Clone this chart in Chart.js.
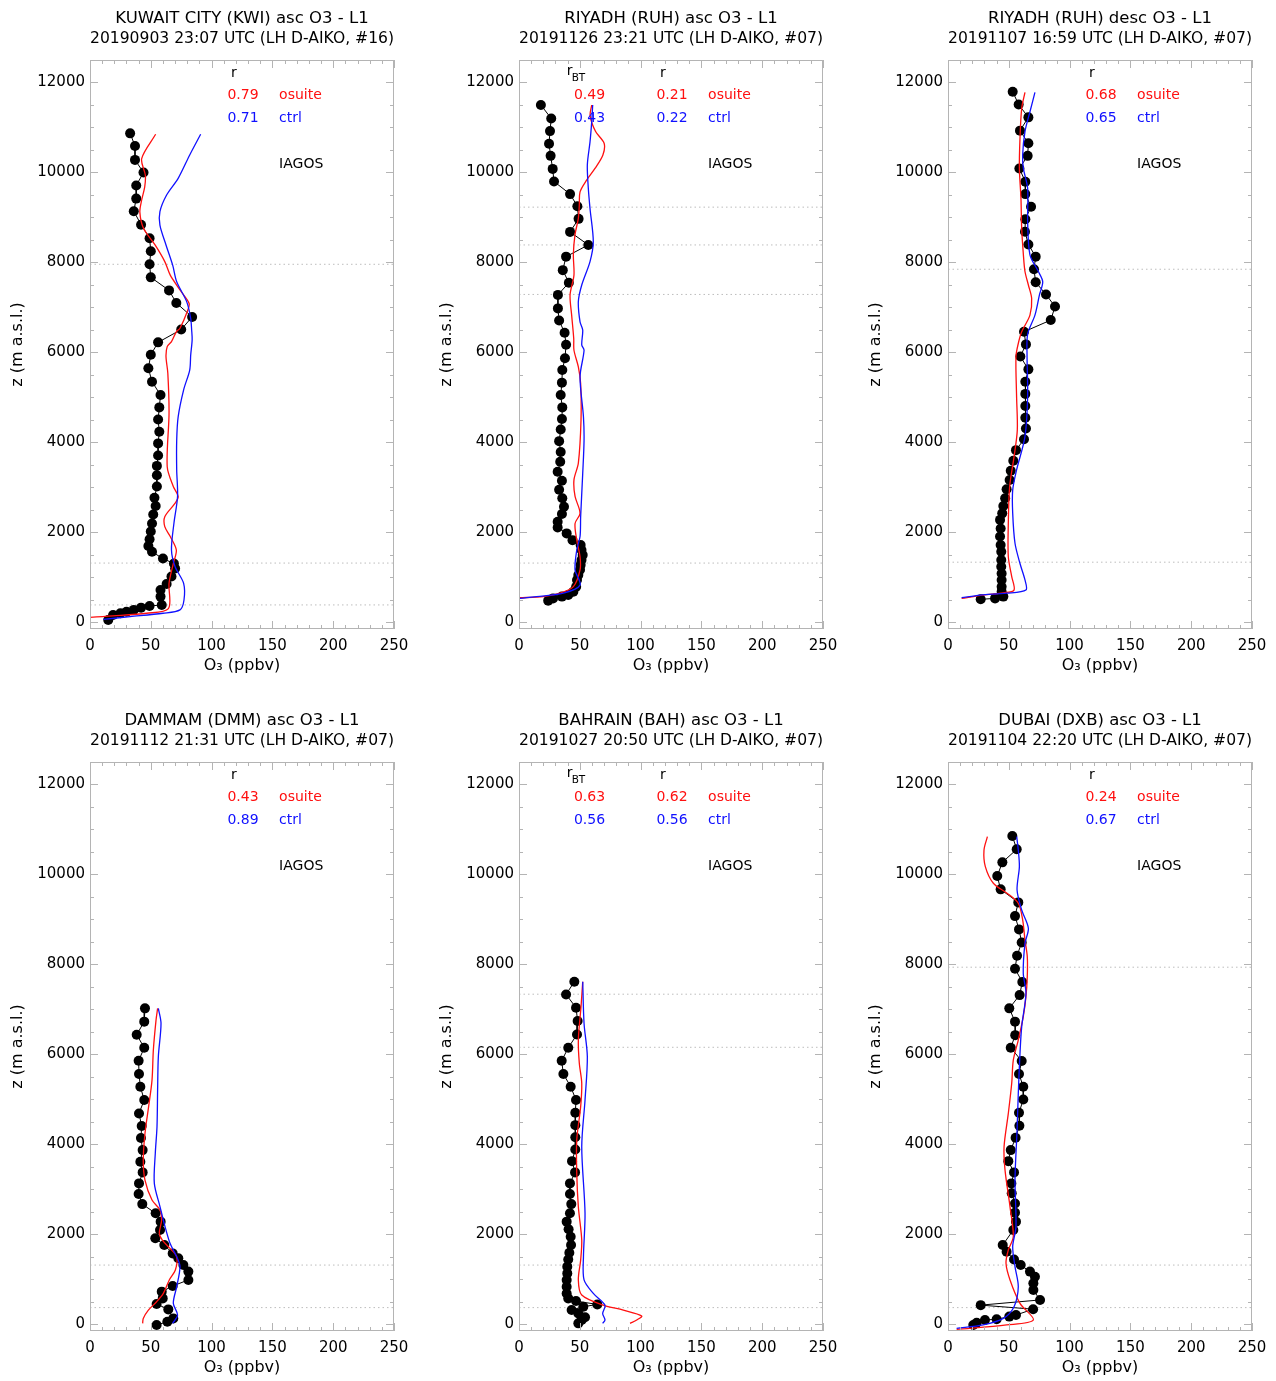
<!DOCTYPE html>
<html>
<head>
<meta charset="utf-8">
<script src="https://cdn.jsdelivr.net/npm/chart.js@4.4.1/dist/chart.umd.min.js"></script>
<style>
  html, body { margin: 0; padding: 0; background: #fff; overflow: hidden; }
  .panel { position: absolute; width: 418px; height: 680px; }
</style>
</head>
<body>
<div class="panel" style="left:0;top:0"><canvas id="p0" width="418" height="680"></canvas></div>
<div class="panel" style="left:429px;top:0"><canvas id="p1" width="418" height="680"></canvas></div>
<div class="panel" style="left:858px;top:0"><canvas id="p2" width="418" height="680"></canvas></div>
<div class="panel" style="left:0;top:702px"><canvas id="p3" width="418" height="680"></canvas></div>
<div class="panel" style="left:429px;top:702px"><canvas id="p4" width="418" height="680"></canvas></div>
<div class="panel" style="left:858px;top:702px"><canvas id="p5" width="418" height="680"></canvas></div>
<script>
// ---------- data: [O3 ppbv, altitude m] ----------
const xTicks = [0, 50, 100, 150, 200, 250];
const zTicks = [0, 2000, 4000, 6000, 8000, 10000, 12000];

const titles = [
  ['KUWAIT CITY (KWI) asc O3 - L1', '20190903 23:07 UTC (LH D-AIKO, #16)'],
  ['RIYADH (RUH) asc O3 - L1', '20191126 23:21 UTC (LH D-AIKO, #07)'],
  ['RIYADH (RUH) desc O3 - L1', '20191107 16:59 UTC (LH D-AIKO, #07)'],
  ['DAMMAM (DMM) asc O3 - L1', '20191112 21:31 UTC (LH D-AIKO, #07)'],
  ['BAHRAIN (BAH) asc O3 - L1', '20191027 20:50 UTC (LH D-AIKO, #07)'],
  ['DUBAI (DXB) asc O3 - L1', '20191104 22:20 UTC (LH D-AIKO, #07)'],
];

const rOsuite   = ['0.79', '0.21', '0.68', '0.43', '0.62', '0.24'];
const rCtrl     = ['0.71', '0.22', '0.65', '0.89', '0.56', '0.67'];
const rbtOsuite = [null, '0.49', null, null, '0.63', null];
const rbtCtrl   = [null, '0.43', null, null, '0.56', null];

// KWI asc
const kwiObs = [[33,10860],[37,10580],[37,10270],[44,9990],[38,9700],[38,9410],[36,9130],[42,8830],[49,8530],[50,8240],[49,7950],[50,7660],[65,7370],[71,7090],[84,6780],[75,6500],[56,6215],[50,5940],[48,5640],[51,5340],[58,5045],[57,4770],[56,4500],[57,4230],[56,3970],[56,3700],[55,3470],[55,3260],[55,3010],[53,2760],[54,2580],[52,2390],[51,2190],[50,2010],[49,1840],[48,1690],[51,1560],[60,1410],[69,1300],[70,1190],[67,1010],[63,845],[58,710],[58,565],[59,380],[49,355],[42,320],[36,270],[30,230],[25,195],[19,155],[15,45]];
const kwiOsuite = [[54,10840],[42.5,10300],[45.5,9930],[45,9670],[42.5,9380],[41,9110],[44,8750],[53.5,8380],[61.5,8010],[66,7710],[74,7380],[81.5,7080],[80,6900],[74,6530],[71,6450],[67,6230],[63.5,6120],[62.5,5900],[64,5530],[65,4640],[63.5,3450],[68.5,3010],[72.5,2790],[70,2640],[61.5,2340],[61.5,2120],[66,1900],[71,1600],[68.5,1300],[65,860],[64.5,300],[46.5,195],[19,135],[0,105],[-5,103]];
const kwiCtrl = [[91,10840],[82,10380],[72.5,9860],[63,9490],[57.5,9120],[57.5,8820],[62.5,8380],[68,7930],[71.3,7560],[79.5,7120],[82.8,6750],[83.6,6490],[84,6270],[82.8,5930],[82,5600],[77,5160],[72.5,4560],[71.3,4040],[71.3,3380],[72,2790],[69,2190],[67,1600],[70,1230],[77,860],[77.3,490],[74,270],[60,195],[33,120],[11,60]];
const kwiLevels = [7950, 1310, 380];

// RUH asc
const ruhAscObs = [[18,11490],[26.5,11190],[25.5,10910],[24.7,10630],[26,10360],[27.7,10070],[28.8,9790],[42,9510],[48,9240],[49,8960],[42,8670],[57,8380],[38.7,8120],[36,7820],[41,7540],[32,7270],[32,6970],[33,6700],[37.5,6430],[38.7,6160],[37.8,5860],[35.6,5600],[35.3,5320],[34.3,5045],[35.6,4770],[35.3,4510],[34.3,4280],[33,4020],[34.3,3780],[33.9,3560],[31.8,3340],[35.3,3140],[33,2940],[35.6,2750],[37,2560],[35.3,2400],[31.8,2230],[31.8,2100],[39.2,1970],[44,1820],[50.7,1710],[51.4,1600],[52.4,1490],[51.4,1380],[50.7,1270],[50.2,1160],[48.8,1045],[47.7,935],[47,785],[44.7,675],[40.5,600],[35.3,565],[28,525],[24,475]];
const ruhAscOsuite = [[59.8,11490],[58.5,11250],[63,10900],[70,10640],[69,10380],[62.5,10080],[55.6,9820],[50.2,9560],[49.6,9270],[48.8,8970],[46,8600],[44.7,8160],[45.2,7710],[42,7270],[43.3,6820],[45,6300],[45.2,6040],[48.8,5670],[50.7,5300],[51,4490],[48.8,3530],[45.2,3160],[46.1,2790],[50.2,2420],[46.1,2190],[47.5,1820],[50.2,1450],[50.2,1160],[44.7,785],[33.7,640],[20,565],[0.8,540],[-5,535]];
const ruhAscCtrl = [[60.6,11490],[59.8,11120],[58.4,10670],[56.2,10160],[57,9640],[58.4,9190],[61.1,8450],[58.4,8010],[51.6,7490],[48.8,7120],[50.2,6670],[52.4,6490],[51.6,6160],[53.5,6040],[50.2,5450],[53,4560],[53.5,4040],[52.4,3300],[50.7,2340],[50.2,1900],[47.5,1600],[46.1,1160],[50.2,820],[36.5,640],[14.5,565],[0.8,525],[-5,520]];
const ruhAscLevels = [9220, 8380, 7280, 1310];

// RUH desc
const ruhDescObs = [[53.2,11785],[58.1,11500],[66.1,11215],[59.2,10920],[66.1,10640],[65.5,10360],[58.7,10080],[63.6,9785],[63.6,9510],[68.3,9230],[63.6,8950],[63.3,8675],[66.1,8390],[72.1,8120],[70.7,7840],[72.1,7550],[80.6,7280],[88,7010],[84.5,6710],[62.5,6450],[64.1,6170],[59.5,5900],[66.1,5615],[63.6,5340],[63.6,5070],[63.6,4800],[63.6,4540],[64.1,4300],[62.5,4060],[55.9,3820],[53.7,3585],[51.6,3360],[50.7,3155],[48.2,2950],[47,2750],[45.5,2580],[44.6,2415],[42.8,2270],[43.3,2080],[42.8,1900],[43.3,1710],[43.8,1560],[43.8,1380],[43.8,1230],[44.1,1080],[44.1,935],[44.1,785],[44.1,675],[45.5,565],[38.7,525],[26.9,505]];
const ruhDescOsuite = [[63.3,11770],[60.6,11415],[59.2,10750],[58.7,10080],[60,9415],[60.6,8750],[62,8160],[63.3,7790],[66.1,7490],[68.8,7190],[67.4,6820],[60.6,6450],[57.8,6190],[55.9,5900],[56.4,5010],[57,4270],[54.3,3670],[50.7,3010],[49.6,2190],[49.6,1450],[52.4,1010],[54.3,710],[45.5,650],[29,600],[11.2,525]];
const ruhDescCtrl = [[71.5,11770],[67.4,11340],[63.3,10900],[61.4,10380],[62,10080],[65.5,9640],[65.5,8900],[67.4,8160],[74.3,7790],[77.9,7560],[75.2,7270],[71.5,6820],[65.5,6400],[65,5930],[65.5,5010],[63.3,4120],[56.4,3380],[53.2,2930],[53.2,2420],[55.1,1750],[59.2,1300],[63.3,935],[64.1,710],[48.2,640],[26.3,600],[11.2,540]];
const ruhDescLevels = [7840, 1330];

// DMM asc
const dmmObs = [[45.2,7015],[44.6,6720],[38.4,6430],[44.6,6140],[40,5850],[40.3,5555],[41.4,5275],[44.6,4980],[40.3,4680],[42.5,4400],[41.9,4135],[43.3,3865],[41.4,3605],[43.3,3370],[40.3,3125],[40,2890],[43,2665],[54,2460],[58.1,2275],[57.6,2090],[53.7,1905],[61.1,1755],[68,1570],[72.6,1460],[76.8,1310],[80.9,1165],[80.9,980],[68,845],[59,720],[59.8,570],[54.8,445],[64.4,325],[68.5,125],[63.6,50],[54.8,-20]];
const dmmOsuite = [[55.6,7015],[54.3,6755],[52.1,6090],[51,5420],[48.2,4830],[45.2,4235],[43.8,3645],[45.2,3200],[51,2755],[57.6,2535],[58.9,2310],[57,2015],[59.5,1865],[65.8,1680],[71.3,1495],[70.2,1200],[65.2,980],[60.3,680],[54.8,495],[48,310],[43.8,125],[43.3,15]];
const dmmCtrl = [[56.2,7015],[58.4,6680],[56.2,5940],[55.6,5200],[55.1,4385],[53.7,3795],[52.9,3125],[57.6,2605],[61.7,2165],[65.8,1795],[71.3,1495],[74,1275],[71.3,830],[68.5,460],[72,200],[68,15]];
const dmmLevels = [1310, 365];

// BAH asc
const bahObs = [[45.5,7605],[38.7,7325],[46.9,7030],[48.2,6735],[47.7,6435],[40.5,6140],[35.1,5850],[36.5,5555],[42.5,5275],[46.9,4980],[46.3,4695],[46.3,4420],[46.3,4150],[46.3,3880],[43.6,3620],[46.1,3370],[41.9,3125],[41.9,2890],[43,2665],[41.9,2460],[39.2,2275],[40.8,2105],[42.5,1940],[42.8,1755],[41.4,1585],[40.5,1435],[39.7,1275],[39.7,1125],[39.2,980],[39.2,830],[39.2,680],[40.5,570],[46.9,510],[64.4,435],[52.9,385],[43.3,310],[48.8,235],[54.3,150],[51.6,90],[48.8,15]];
const bahOsuite = [[52.4,7605],[51,7050],[48.8,6310],[49.6,5795],[51.6,5350],[50.7,4830],[47.5,4090],[47.5,3350],[48.8,2605],[51.6,1865],[50.7,1420],[48.8,980],[51.6,645],[69.3,420],[85.8,310],[100.9,180],[96.8,90],[91.3,15]];
const bahCtrl = [[52.4,7605],[53.5,6680],[56.2,5940],[54.3,4980],[51.6,3940],[54.3,2460],[53,1495],[53.5,980],[61.1,680],[70.7,420],[68.8,235],[70.7,90],[68.8,15]];
const bahLevels = [7330, 6150, 1310, 365];

// DXB asc
const dxbObs = [[52.9,10845],[56.5,10550],[44.7,10260],[40.5,9955],[43.3,9660],[57.8,9370],[55.1,9065],[58.4,8770],[60.6,8480],[56.8,8185],[55.1,7895],[61.1,7600],[58.9,7310],[50.4,7015],[55.1,6720],[55.3,6420],[51.6,6140],[60.6,5845],[58.4,5555],[61.9,5275],[61.9,4990],[58.4,4695],[58.7,4405],[55.6,4140],[51.6,3865],[49.6,3620],[54.3,3370],[52.1,3125],[52.4,2905],[55.1,2680],[55.1,2475],[55.9,2275],[53.7,2090],[45,1755],[48.2,1605],[54.3,1435],[59.8,1310],[67.4,1165],[71.5,1050],[70.2,905],[70.2,755],[75.7,535],[26.9,420],[70,330],[55.9,200],[50.4,165],[40,105],[30.4,90],[23.6,30],[20.8,-20]];
const dxbOsuite = [[32.4,10830],[29.6,10535],[30.7,10165],[37.3,9795],[48.8,9570],[57.8,9350],[61.4,8980],[63.3,8535],[65.2,8165],[65.2,7720],[64.1,7275],[61.9,6830],[57.8,6310],[53.7,5865],[52.4,5350],[49.6,4680],[46.1,3940],[46.9,3420],[51,2605],[53.7,1940],[49.6,1645],[47.7,1350],[51,980],[59.2,460],[70.2,90],[48.2,-20],[7.1,-120]];
const dxbCtrl = [[56.5,10830],[57.8,10535],[58.7,10165],[56.8,9645],[60.6,9200],[66.1,8795],[63.3,8460],[61.9,7795],[64.1,7350],[60.6,6605],[59.2,6015],[57.8,5125],[56.8,4310],[55.1,3200],[55.9,2165],[53.2,1720],[55.1,1275],[57.8,830],[54.3,385],[45.5,125],[29,-20],[7.1,-95]];
const dxbLevels = [7930, 1310, 365];

const obsSets    = [kwiObs, ruhAscObs, ruhDescObs, dmmObs, bahObs, dxbObs];
const osuiteSets = [kwiOsuite, ruhAscOsuite, ruhDescOsuite, dmmOsuite, bahOsuite, dxbOsuite];
const ctrlSets   = [kwiCtrl, ruhAscCtrl, ruhDescCtrl, dmmCtrl, bahCtrl, dxbCtrl];
const levelSets  = [kwiLevels, ruhAscLevels, ruhDescLevels, dmmLevels, bahLevels, dxbLevels];

// ---------- styling ----------
const FONT = '"DejaVu Sans", "Liberation Sans", sans-serif';
const RED = '#ff1010';
const BLUE = '#1010ff';
const FRAME = '#b4b4b4';

const toXY = (arr) => arr.map((p) => ({ x: p[0], y: p[1] }));

// frame + small inward ticks on all four sides
const framePlugin = {
  id: 'frame',
  afterDatasetsDraw(chart) {
    const { ctx, chartArea: a, scales: { x, y } } = chart;
    ctx.save();
    ctx.strokeStyle = FRAME;
    ctx.lineWidth = 1;
    ctx.strokeRect(a.left + 0.5, a.top + 0.5, a.right - a.left - 1, a.bottom - a.top - 1);
    ctx.beginPath();
    for (let v = 0; v <= 250; v += 10) {
      const px = Math.round(x.getPixelForValue(v)) + 0.5;
      const len = v % 50 === 0 ? 8 : 4;
      ctx.moveTo(px, a.bottom); ctx.lineTo(px, a.bottom - len);
      ctx.moveTo(px, a.top); ctx.lineTo(px, a.top + len);
    }
    for (let v = 0; v <= 12000; v += 500) {
      const py = Math.round(y.getPixelForValue(v)) + 0.5;
      const len = v % 2000 === 0 ? 8 : 4;
      ctx.moveTo(a.left, py); ctx.lineTo(a.left + len, py);
      ctx.moveTo(a.right, py); ctx.lineTo(a.right - len, py);
    }
    ctx.stroke();
    ctx.restore();
  },
};

// correlation notes and IAGOS label, placed in data coordinates
const notePlugin = {
  id: 'notes',
  afterDraw(chart) {
    const i = chart.options.panelIndex;
    const { ctx, scales: { x, y } } = chart;
    const X = (v) => x.getPixelForValue(v);
    const Y = (v) => y.getPixelForValue(v);
    ctx.save();
    ctx.textBaseline = 'middle';
    ctx.font = '14px ' + FONT;

    ctx.fillStyle = '#000';
    ctx.textAlign = 'center';
    ctx.fillText('r', X(118.4), Y(12200));
    ctx.textAlign = 'left';
    ctx.fillText('IAGOS', X(155.5), Y(10180));

    ctx.fillStyle = RED;
    ctx.fillText(rOsuite[i], X(113), Y(11700));
    ctx.fillText('osuite', X(155.5), Y(11700));
    ctx.fillStyle = BLUE;
    ctx.fillText(rCtrl[i], X(113), Y(11195));
    ctx.fillText('ctrl', X(155.5), Y(11195));

    if (rbtOsuite[i]) {
      ctx.fillStyle = '#000';
      ctx.fillText('r', X(39.2), Y(12230));
      ctx.font = '10.5px ' + FONT;
      ctx.fillText('BT', X(43.3), Y(12090));
      ctx.font = '14px ' + FONT;
      ctx.fillStyle = RED;
      ctx.fillText(rbtOsuite[i], X(45.2), Y(11700));
      ctx.fillStyle = BLUE;
      ctx.fillText(rbtCtrl[i], X(45.2), Y(11195));
    }
    ctx.restore();
  },
};

function makePanel(i) {
  const lineOpts = { showLine: true, pointRadius: 0, borderWidth: 1.3, tension: 0.3, fill: false };
  const datasets = [
    Object.assign({ label: 'ctrl', data: toXY(ctrlSets[i]), borderColor: BLUE, order: 1 }, lineOpts),
    Object.assign({ label: 'osuite', data: toXY(osuiteSets[i]), borderColor: RED, order: 2 }, lineOpts),
    {
      label: 'IAGOS', data: toXY(obsSets[i]), showLine: true, borderColor: '#000', borderWidth: 1,
      pointRadius: 5, pointBackgroundColor: '#000', pointBorderColor: '#000', pointBorderWidth: 0,
      tension: 0, order: 3,
    },
  ];
  levelSets[i].forEach((z) => {
    datasets.push({
      label: 'level', data: [{ x: 0, y: z }, { x: 250, y: z }], showLine: true,
      borderColor: '#bdbdbd', borderWidth: 1, borderDash: [1.5, 3], pointRadius: 0, order: 5,
    });
  });

  const tickFont = { family: FONT, size: 15 };
  new Chart(document.getElementById('p' + i), {
    type: 'scatter',
    data: { datasets: datasets },
    options: {
      panelIndex: i,
      responsive: false,
      animation: false,
      devicePixelRatio: 1,
      layout: { padding: { left: 0, right: 24, top: 0, bottom: 0 } },
      plugins: {
        legend: { display: false },
        tooltip: { enabled: false },
        title: {
          display: true, text: titles[i], fullSize: false, color: '#000',
          font: { family: FONT, size: 16.5, weight: 'normal', lineHeight: '20px' },
          padding: { top: 9, bottom: 11 },
        },
      },
      scales: {
        x: {
          type: 'linear', min: 0, max: 250,
          afterBuildTicks: (s) => { s.ticks = xTicks.map((v) => ({ value: v })); },
          afterFit: (s) => { s.height = 51; },
          grid: { display: false, drawTicks: false },
          border: { display: false },
          ticks: { padding: 8, color: '#000', font: tickFont, maxRotation: 0, autoSkip: false, callback: (v) => String(v) },
          title: { display: true, text: 'O\u2083 (ppbv)', color: '#000', font: { family: FONT, size: 16 }, padding: { top: 0, bottom: 5 } },
        },
        y: {
          type: 'linear', min: -155, max: 12490,
          afterBuildTicks: (s) => { s.ticks = zTicks.map((v) => ({ value: v })); },
          afterFit: (s) => { s.width = 90; },
          grid: { display: false, drawTicks: false },
          border: { display: false },
          ticks: { padding: 5, color: '#000', font: tickFont, autoSkip: false, callback: (v) => String(v) },
          title: { display: true, text: 'z (m a.s.l.)', color: '#000', font: { family: FONT, size: 16 }, padding: { top: 8.4, bottom: 0 } },
        },
      },
    },
    plugins: [framePlugin, notePlugin],
  });
}

for (let i = 0; i < 6; i++) makePanel(i);
</script>
</body>
</html>
